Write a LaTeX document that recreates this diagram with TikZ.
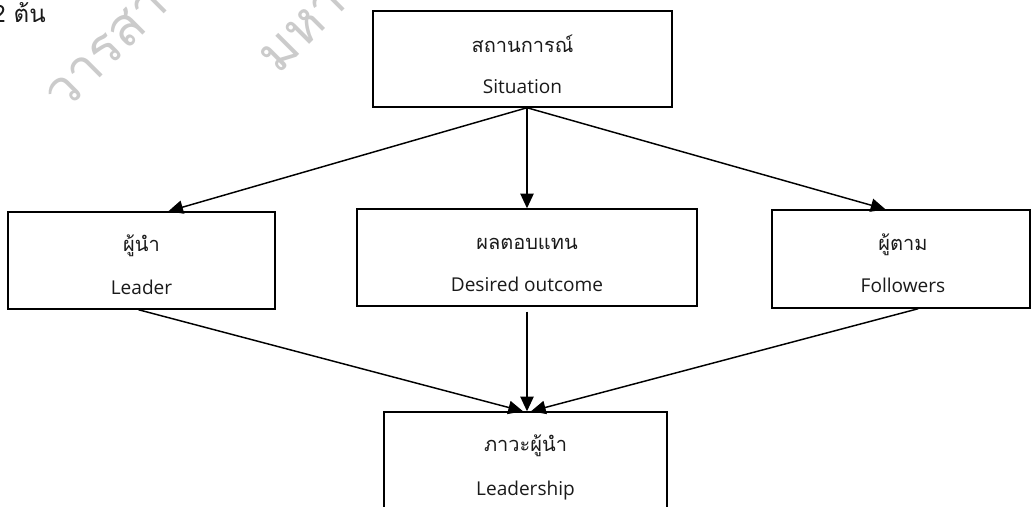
\documentclass[tikz,border=0pt]{standalone}
\usepackage{fontspec}
\setmainfont{Open Sans}
\newfontfamily\thai[Script=Thai]{Loma}
\usetikzlibrary{arrows.meta,calc,fit}
\definecolor{ink}{HTML}{1A1A1A}
\definecolor{wm}{HTML}{CBCBCB}
\begin{document}
\begin{tikzpicture}[x=0.75pt,y=-0.75pt,
  box/.style={draw=black,line width=1.1pt,inner sep=0pt,rectangle},
  th/.style={anchor=base,inner sep=0pt,text=ink,font=\thai\fontsize{15pt}{18pt}\selectfont},
  en/.style={anchor=base,inner sep=0pt,text=ink,font=\fontsize{14.3pt}{16pt}\selectfont},
  wmark/.style={anchor=base west,inner sep=0pt,text=wm,rotate=45,font=\thai\fontsize{40pt}{42pt}\selectfont},
  conn/.style={line width=1.1pt,-{Triangle[length=11pt,width=10pt]}}]
\useasboundingbox (0,0) rectangle (1032,507);
\clip (0,0) rectangle (1032,507);
\fill[white] (0,0) rectangle (1032,507);
% watermark and cut-off text
\node[wmark] (wm1) at (64,114) {วารสารวิชาการ};
\node[wmark] (wm2) at (278,76) {มหาวิทยาลัย};
\node[anchor=base west,inner sep=0pt,text=ink,font=\thai\fontsize{18pt}{21pt}\selectfont] (top) at (-8,22) {2 ต้น};
% boxes
\node[box,fit={(373,11) (672,107)}] (sit) {};
\node[box,fit={(8,212) (275,309)}] (lea) {};
\node[box,fit={(357,209) (697,306)}] (des) {};
\node[box,fit={(772,210) (1030,308)}] (fol) {};
\node[box,fit={(384,412) (667,525)}] (ldr) {};
% texts
\node[th] (sitT) at (522.5,52) {สถานการณ์};
\node[en] (sitE) at (522.5,93) {Situation};
\node[th] (leaT) at (141.5,251) {ผู้นำ};
\node[en] (leaE) at (141.5,294) {Leader};
\node[th] (desT) at (527,249) {ผลตอบแทน};
\node[en] (desE) at (527,291) {Desired outcome};
\node[th] (folT) at (903,250) {ผู้ตาม};
\node[en] (folE) at (903,292) {Followers};
\node[th] (ldrT) at (525.5,451) {ภาวะผู้นำ};
\node[en] (ldrE) at (525.5,495) {Leadership};
% connectors
\coordinate (s0) at (sit.south -| des.north);
\draw[conn] (s0) -- ($(lea.north west)!0.6!(lea.north east)$);
\draw[conn] (s0) -- (des.north);
\draw[conn] (s0) -- ($(fol.north west)!0.44!(fol.north east)$);
\draw[conn] ($(lea.south)+(-3,0)$) -- ($(ldr.north)+(-2.5,0)$);
\draw[conn] ($(des.south)+(0,5)$) -- (ldr.north -| des.south);
\draw[conn] ($(fol.south west)!0.566!(fol.south east)$) -- ($(ldr.north)+(5.5,0)$);
\end{tikzpicture}
\end{document}
